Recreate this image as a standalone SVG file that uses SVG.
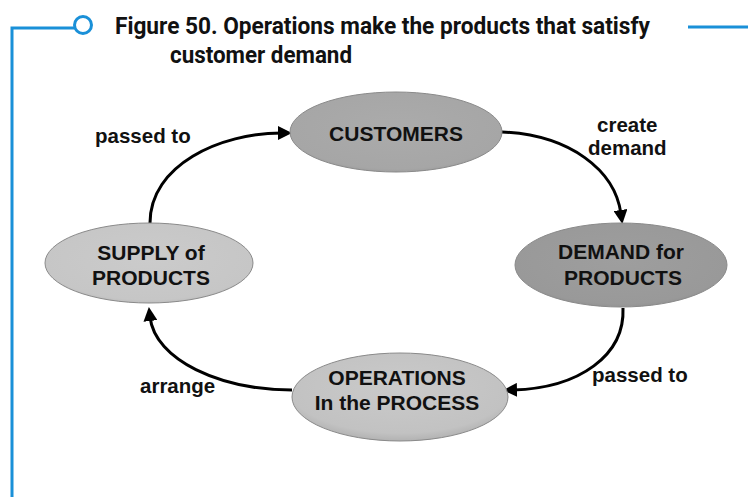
<svg xmlns="http://www.w3.org/2000/svg" width="748" height="497" viewBox="0 0 748 497">
<style>
.title{font-family:Roboto,"Liberation Sans",sans-serif;font-weight:bold;font-size:24px;fill:#111}
.node{font-family:"Liberation Sans",Arial,sans-serif;font-weight:bold;font-size:21px;fill:#111;text-anchor:middle}
.lbl{font-family:"Liberation Sans",Arial,sans-serif;font-weight:bold;font-size:20.5px;fill:#111}
.conn{fill:none;stroke:#000;stroke-width:3;marker-end:url(#arr)}
.blue{stroke:#1a90d8;stroke-width:3;fill:none}
.ell{stroke:#8a8a8a;stroke-width:1}
</style>
<defs>
<marker id="arr" markerUnits="userSpaceOnUse" markerWidth="16" markerHeight="14" refX="4" refY="7" orient="auto">
<path d="M0,0 L14,7 L0,14 z" fill="#000"/>
</marker>
<radialGradient id="gC" cx="50%" cy="45%" r="60%"><stop offset="0" stop-color="#ababab"/><stop offset="0.85" stop-color="#a6a6a6"/><stop offset="1" stop-color="#979797"/></radialGradient>
<radialGradient id="gD" cx="50%" cy="45%" r="60%"><stop offset="0" stop-color="#9e9e9e"/><stop offset="0.85" stop-color="#999"/><stop offset="1" stop-color="#8c8c8c"/></radialGradient>
<radialGradient id="gS" cx="50%" cy="45%" r="60%"><stop offset="0" stop-color="#cbcbcb"/><stop offset="0.85" stop-color="#c6c6c6"/><stop offset="1" stop-color="#b5b5b5"/></radialGradient>
<radialGradient id="gO" cx="50%" cy="40%" r="60%"><stop offset="0" stop-color="#cacaca"/><stop offset="0.85" stop-color="#c2c2c2"/><stop offset="1" stop-color="#b2b2b2"/></radialGradient>
</defs>
<rect width="748" height="497" fill="#fff"/>
<g id="frame">
<polyline class="blue" points="12,497 12,28 74,28"/>
<circle class="blue" cx="83" cy="25" r="8.5"/>
<line class="blue" x1="688" y1="27" x2="748" y2="27"/>
</g>
<g id="title">
<text class="title" x="115" y="34" textLength="535" lengthAdjust="spacingAndGlyphs">Figure 50. Operations make the products that satisfy</text>
<text class="title" x="170" y="63" textLength="182" lengthAdjust="spacingAndGlyphs">customer demand</text>
</g>
<g id="connectors">
<path class="conn" d="M150,223 C150,165 220,133 282,133"/>
<path class="conn" d="M502,132 C570,135 615,170 621,214"/>
<path class="conn" d="M623,308 C625,355 580,388 513,390"/>
<path class="conn" d="M292,390 C220,390 155,360 150,317"/>
<text class="lbl" x="95" y="143">passed to</text>
<text class="lbl" x="597" y="132">create</text>
<text class="lbl" x="588" y="155">demand</text>
<text class="lbl" x="592" y="382">passed to</text>
<text class="lbl" x="140" y="393">arrange</text>
</g>
<g id="customers">
<ellipse class="ell" cx="396" cy="132" rx="106" ry="40" fill="url(#gC)"/>
<text class="node" x="396" y="141">CUSTOMERS</text>
</g>
<g id="demand">
<ellipse class="ell" cx="621" cy="265" rx="106" ry="42" fill="url(#gD)"/>
<text class="node" x="621" y="259">DEMAND for</text>
<text class="node" x="623" y="285">PRODUCTS</text>
</g>
<g id="supply">
<ellipse class="ell" cx="149" cy="263" rx="104" ry="40" fill="url(#gS)"/>
<text class="node" x="151" y="260">SUPPLY of</text>
<text class="node" x="151" y="285">PRODUCTS</text>
</g>
<g id="operations">
<ellipse class="ell" cx="400" cy="397" rx="108" ry="44" fill="url(#gO)"/>
<text class="node" x="397" y="385">OPERATIONS</text>
<text class="node" x="397" y="410">In the PROCESS</text>
</g>
</svg>
